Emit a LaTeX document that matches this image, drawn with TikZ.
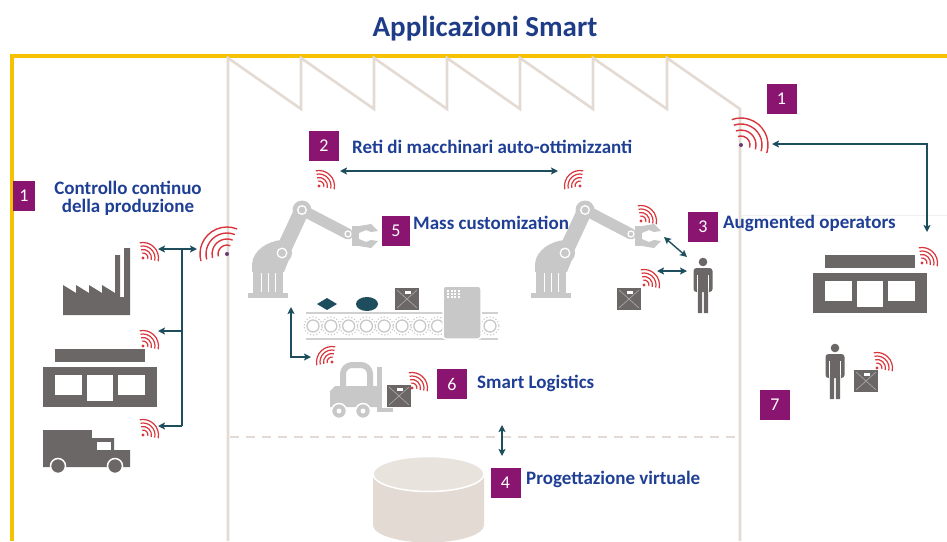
\documentclass[tikz,border=0pt]{standalone}
\usepackage{fontspec}
\setmainfont{Carlito}
\usetikzlibrary{arrows.meta}

\definecolor{titleblue}{HTML}{1F3C87}
\definecolor{labelblue}{HTML}{1F3F95}
\definecolor{plum}{HTML}{8A1570}
\definecolor{linkteal}{HTML}{1E4E5E}
\definecolor{signal}{HTML}{D8363C}
\definecolor{icongray}{HTML}{6B6766}
\definecolor{machgray}{HTML}{C8C8C8}
\definecolor{wallbeige}{HTML}{E2DAD3}
\definecolor{framegold}{HTML}{F6C100}

\begin{document}
\begin{tikzpicture}[
    x=1pt, y=-1pt,
    numbox/.style={rectangle, fill=plum, text=white, font=\fontsize{18}{18}\selectfont,
        minimum width=30pt, minimum height=30pt, inner sep=0pt},
    caption/.style={anchor=base west, inner sep=0pt, text=labelblue,
        font=\fontsize{19}{22}\selectfont\bfseries},
    link/.style={draw=linkteal, line width=1.4pt},
    twoway/.style={link, {Stealth[length=7pt,width=7pt,inset=1.5pt]}-{Stealth[length=7pt,width=7pt,inset=1.5pt]}},
    oneway/.style={link, -{Stealth[length=7pt,width=7pt,inset=1.5pt]}},
    wall/.style={draw=wallbeige, line width=2.6pt},
    wifi/.pic={
        \fill[signal] (0,0) circle (1.7);
        \foreach \r in {5,8.5,12,15.5}
            \draw[signal, line width=1.2pt] (12:\r) arc[start angle=12, end angle=-102, radius=\r];
    },
    bigwifi/.pic={
        \fill[labelblue!60!signal] (0,0) circle (2);
        \foreach \r in {9,15,21,27}
            \draw[signal, line width=1.4pt] (17:\r) arc[start angle=17, end angle=-110, radius=\r];
    },
    parcel/.pic={
        \fill[icongray] (0,0) rectangle (24,22);
        \draw[white!45!icongray, line width=0.6pt] (2,2) -- (22,20) (22,2) -- (2,20);
        \fill[white] (10,3) rectangle (16,6);
    },
    person/.pic={
        \fill[icongray] (0,0) circle (4.3);
        \fill[icongray, rounded corners=3pt] (-9.5,6) rectangle (9.5,30);
        \draw[white, line width=1pt] (-5.8,13) -- (-5.8,31) (5.8,13) -- (5.8,31);
        \fill[icongray] (-5.2,27) rectangle (-0.8,51) (0.8,27) rectangle (5.2,51);
    },
    shop/.pic={
        \fill[icongray] (12,-18) rectangle (102,-5);
        \fill[icongray] (0,0) rectangle (114,40);
        \fill[white] (12,8) rectangle (39,28);
        \fill[white] (44,8) rectangle (70,34);
        \fill[white] (75,8) rectangle (102,28);
    },
    robot/.pic={
        \fill[machgray] (-20,-5) rectangle (20,0);
        \fill[machgray] (-15,-28) rectangle (15,-5);
        \draw[white, line width=0.5pt] (-7,-25) -- (-7,-6) (0,-25) -- (0,-6) (7,-25) -- (7,-6);
        \fill[machgray] (-16,-26) -- (-16,-34) .. controls (-15,-48) and (0,-57) .. (14,-58) -- (24,-46) -- (16,-26) -- cycle;
        \draw[machgray, line width=15pt, line cap=round] (14,-45) -- (34,-88);
        \draw[machgray, line width=11pt, line cap=round] (34,-88) -- (80,-64);
        \fill[machgray] (14,-45) circle (10) (34,-88) circle (9.5);
        \draw[white, line width=1.3pt] (14,-45) circle (4.8) (34,-88) circle (4.3) (80,-64) circle (3);
        \fill[machgray] (84,-72) rectangle (91,-52);
        \fill[machgray] (91,-72) -- (103,-74) -- (110,-67) -- (103,-66) -- (98,-68) -- (91,-65) -- cycle;
        \fill[machgray] (91,-59) -- (98,-56) -- (103,-58) -- (110,-57) -- (103,-50) -- (91,-52) -- cycle;
    }
]
\useasboundingbox (0,0) rectangle (947,541);

% Title and outer frame
\node[anchor=base, text=titleblue, font=\fontsize{29}{31}\selectfont\bfseries] (title) at (485,36) {Applicazioni Smart};
\draw[framegold, line width=3.6pt] (947,56) -- (11.7,56) -- (11.7,541);
\draw[gray!12, line width=0.8pt] (742,215) -- (947,215);

% Factory hall with saw-tooth roof
\draw[wall] (228,541) -- (228,58) -- (301,109) -- (301,58) -- (374,109) -- (374,58) -- (447,109)
    -- (447,58) -- (520,109) -- (520,58) -- (593,109) -- (593,58) -- (667,109) -- (667,58)
    -- (740,109) -- (740,541);
\draw[wall, line width=2pt, dash pattern=on 9pt off 7pt] (230,437) -- (740,437);

% Plant, shop and truck on the left
\fill[icongray] (63,315) -- (63,285) -- (76,293) -- (76,285) -- (89,293) -- (89,285) -- (102,293)
    -- (102,285) -- (115,293) -- (115,255) -- (120,255) -- (120,297) -- (124,297) -- (124,248)
    -- (130,248) -- (130,315) -- cycle;
\pic at (43,367) {shop};
\fill[icongray] (43,430) rectangle (92,462);
\fill[icongray] (92,438) -- (114,438) -- (114,450) -- (130,450) -- (130,467) -- (43,467) -- (43,460) -- (92,460) -- cycle;
\fill[white] (97,442) rectangle (111,450);
\fill[icongray, draw=white, line width=1.5pt] (58,466) circle (7.5) (115,466) circle (7.5);

\pic at (143,258) {wifi};
\pic at (143,346) {wifi};
\pic at (143,435) {wifi};
\pic[rotate=85] at (227,254) {bigwifi};

\node[numbox, minimum width=22pt] (n1) at (24,196) {1};
\node[anchor=base, inner sep=0pt, text=labelblue, font=\fontsize{19}{22}\selectfont\bfseries] (ctrlA) at (128,194) {Controllo continuo};
\node[anchor=base, inner sep=0pt, text=labelblue, font=\fontsize{19}{22}\selectfont\bfseries] (ctrlB) at (128,212) {della produzione};

% Signal bus
\coordinate (hubA) at (182,249);
\coordinate (hubB) at (182,331);
\coordinate (hubC) at (182,426);
\coordinate (plantSig) at (158,249);
\coordinate (antL) at (197,249);
\coordinate (shopSig) at (158,331);
\coordinate (truckSig) at (158,426);
\draw[twoway] (plantSig) -- (antL);
\draw[link] (hubA) -- (hubC);
\draw[oneway] (hubB) -- (shopSig);
\draw[oneway] (hubC) -- (truckSig);

% Robots
\pic at (268,298) {robot};
\pic at (551,298) {robot};
\pic at (319,186) {wifi};
\pic[xscale=-1] at (580,186) {wifi};
\pic at (641,221) {wifi};

\node[numbox] (n2) at (324,146) {2};
\node[caption] (cap2) at (352,153) {Reti di macchinari auto-ottimizzanti};
\coordinate (armL) at (340,171);
\coordinate (armR) at (558,171);
\draw[twoway] (armL) -- (armR);

\node[numbox, minimum width=28pt] (n5) at (396,231) {5};
\node[caption] (cap5) at (413,229) {Mass customization};

% Conveyor line
\draw[machgray!85, line width=2pt] (306,313) -- (498,313) (306,339) -- (498,339);
\foreach \i in {0,...,7} {
    \draw[machgray, line width=1.3pt] (313+17.8*\i,326) circle (6);
    \draw[machgray, line width=1.1pt, dash pattern=on 1.2pt off 2pt] (313+17.8*\i,326) circle (9);
}
\draw[machgray, line width=1.3pt] (490,326) circle (6);
\draw[machgray, line width=1.1pt, dash pattern=on 1.2pt off 2pt] (490,326) circle (9);
\fill[machgray, draw=white, line width=1.5pt, rounded corners=3pt] (443,286) rectangle (481,339);
\foreach \i in {0,...,3}
    \foreach \j in {0,1,2}
        \fill[white] (447+3.5*\i,290+3*\j) rectangle +(2,1.8);
\fill[linkteal] (317,304) -- (327,298) -- (337,304) -- (327,310) -- cycle;
\fill[linkteal] (367,304) ellipse (11 and 7);
\pic at (395,288) {parcel};

% Operator next to the cell
\pic at (617,288) {parcel};
\pic at (644,285) {wifi};
\pic at (703,262) {person};
\coordinate (gripR) at (664,237);
\coordinate (opA) at (687,257);
\coordinate (boxR) at (657,271);
\coordinate (opB) at (687,271);
\draw[twoway] (gripR) -- (opA);
\draw[twoway] (boxR) -- (opB);
\node[numbox] (n3) at (703,227) {3};
\node[caption] (cap3) at (723,228) {Augmented operators};

% Forklift
\coordinate (beltSig) at (291,307);
\coordinate (forkSig) at (311,357);
\draw[twoway] (beltSig) |- (forkSig);
\pic[xscale=-1] at (332,362) {wifi};
\draw[machgray, line width=6pt, rounded corners=9pt] (343,396) -- (343,365) -- (370,365) -- (370,396);
\fill[machgray] (330,391) -- (335,386) -- (378,386) -- (378,407) -- (330,407) -- cycle;
\fill[machgray] (377,367) rectangle (382,411);
\fill[machgray] (377,408) rectangle (393,412);
\fill[machgray, draw=white, line width=1.5pt] (339,411) circle (7.5) (363,411) circle (7.5);
\fill[white] (339,411) circle (2.5) (363,411) circle (2.5);
\pic at (387,385) {parcel};
\pic at (412,388) {wifi};
\node[numbox] (n6) at (452,384) {6};
\node[caption] (cap6) at (477,388) {Smart Logistics};

% Virtual design
\coordinate (hallSig) at (502,425);
\coordinate (dbSig) at (502,456);
\draw[twoway] (hallSig) -- (dbSig);
\fill[wallbeige] (373,474) -- (373,525) arc[start angle=180, end angle=0, x radius=55.5, y radius=17.5] -- (484,474) -- cycle;
\fill[wallbeige!75, draw=white, line width=1.5pt] (428.5,474) ellipse (55.5 and 17.5);
\node[numbox] (n4) at (505.5,482.5) {4};
\node[caption] (cap4) at (526,484) {Progettazione virtuale};

% Outside the hall
\pic at (741,145) {bigwifi};
\node[numbox] (n1b) at (781.5,99) {1};
\coordinate (antR) at (772,144);
\coordinate (shopSigR) at (927,232);
\draw[twoway] (antR) -| (shopSigR);
\pic at (813,273) {shop};
\pic at (922,263) {wifi};
\pic at (835,348) {person};
\pic at (854,370) {parcel};
\pic at (877,368) {wifi};
\node[numbox] (n7) at (775,404.5) {7};

\end{tikzpicture}
\end{document}
